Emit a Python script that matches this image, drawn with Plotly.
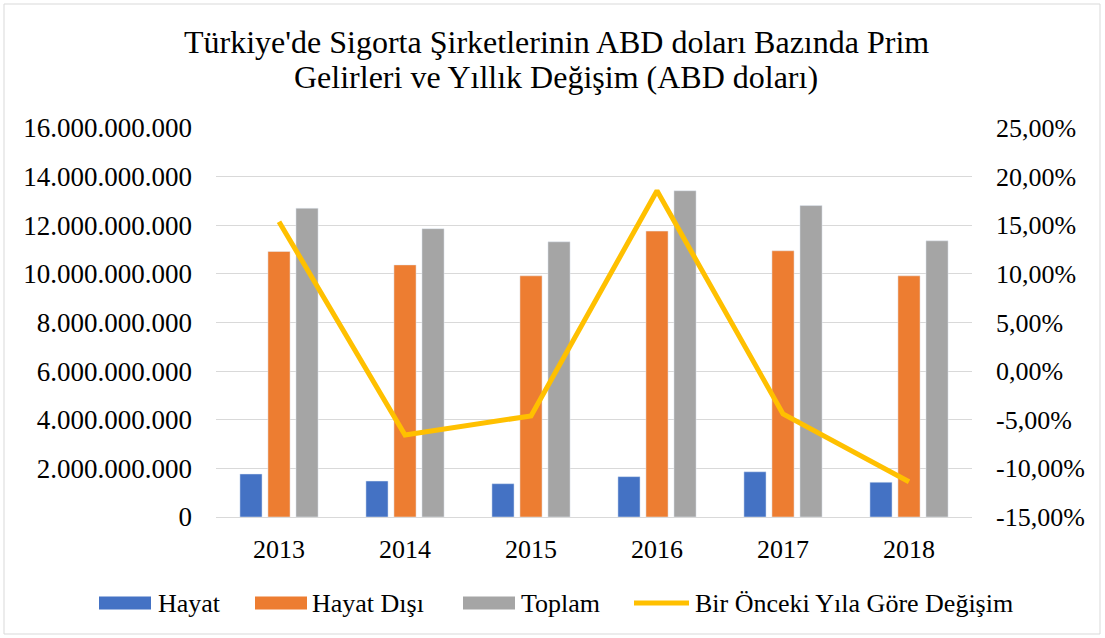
import plotly.graph_objects as go

years = ["2013", "2014", "2015", "2016", "2017", "2018"]
hayat = [1.77e9, 1.48e9, 1.37e9, 1.66e9, 1.86e9, 1.43e9]
hayat_disi = [10.92e9, 10.37e9, 9.92e9, 11.76e9, 10.95e9, 9.92e9]
toplam = [12.70e9, 11.86e9, 11.32e9, 13.42e9, 12.81e9, 11.36e9]
degisim = [0.1537, -0.0657, -0.046, 0.1855, -0.044, -0.1137]

series_names = ["Hayat", "Hayat Dışı", "Toplam", "Bir Önceki Yıla Göre Değişim"]
series_colors = ["#4472C4", "#ED7D31", "#A5A5A5", "#FFC000"]

pct_tickvals = [-0.15, -0.10, -0.05, 0.0, 0.05, 0.10, 0.15, 0.20, 0.25]
pct_ticktext = ["-15,00%", "-10,00%", "-5,00%", "0,00%", "5,00%", "10,00%", "15,00%", "20,00%", "25,00%"]

title_lines = ["Türkiye'de Sigorta Şirketlerinin ABD doları Bazında Prim",
               "Gelirleri ve Yıllık Değişim (ABD doları)"]

W, H = 1105, 638
L, R, T, B = 216, 972, 128, 517
FONT = "Liberation Serif"


def px_x(p):
    return (p - L) / (R - L)


def px_y(p):
    return (B - p) / (B - T)


fig = go.Figure()
for vals, name, col in zip([hayat, hayat_disi, toplam], series_names[:3], series_colors[:3]):
    fig.add_trace(go.Bar(x=years, y=vals, name=name, marker_color=col, showlegend=False))
fig.add_trace(go.Scatter(x=years, y=degisim, name=series_names[3], mode="lines",
                         line=dict(color=series_colors[3], width=5), yaxis="y2",
                         showlegend=False))

shapes = [dict(type="rect", xref="paper", yref="paper",
               x0=px_x(4), x1=px_x(1100), y0=px_y(634), y1=px_y(4),
               line=dict(color="#D9D9D9", width=1), fillcolor="rgba(0,0,0,0)", layer="below")]
annotations = []

# title (two lines)
for i, line in enumerate(title_lines):
    annotations.append(dict(text=line, xref="paper", yref="paper", x=px_x(556), y=px_y(42 + 35 * i),
                            xanchor="center", yanchor="middle", showarrow=False,
                            font=dict(family=FONT, size=32, color="black")))

# custom legend: swatch x positions and text x positions
leg_sw = [(99, 151), (255, 307), (463, 515), (634, 689)]
leg_tx = [156, 310, 519, 693]
leg_y = 603
for i, (name, col) in enumerate(zip(series_names, series_colors)):
    x0, x1 = leg_sw[i]
    if i < 3:
        shapes.append(dict(type="rect", xref="paper", yref="paper",
                           x0=px_x(x0), x1=px_x(x1), y0=px_y(leg_y + 6.5), y1=px_y(leg_y - 6.5),
                           line=dict(width=0), fillcolor=col))
    else:
        shapes.append(dict(type="line", xref="paper", yref="paper",
                           x0=px_x(x0), x1=px_x(x1), y0=px_y(leg_y), y1=px_y(leg_y),
                           line=dict(color=col, width=5)))
    annotations.append(dict(text=name, xref="paper", yref="paper", x=px_x(leg_tx[i]), y=px_y(leg_y),
                            xanchor="left", yanchor="middle", showarrow=False,
                            font=dict(family=FONT, size=26, color="black")))

fig.update_layout(
    width=W, height=H,
    margin=dict(l=L, r=W - R, t=T, b=H - B),
    paper_bgcolor="white", plot_bgcolor="white",
    separators=",.",
    font=dict(family=FONT, size=26, color="black"),
    showlegend=False,
    barmode="group", bargap=0.333, bargroupgap=0.21,
    xaxis=dict(showgrid=False, showline=True, linecolor="#D9D9D9", linewidth=1,
               ticks="", ticklabelstandoff=9, tickfont=dict(family=FONT, size=26)),
    yaxis=dict(range=[0, 16e9], dtick=2e9, tickformat=",d", showgrid=True,
               gridcolor="#D9D9D9", gridwidth=1, zeroline=False, showline=False,
               ticks="", ticklabelstandoff=23, tickfont=dict(family=FONT, size=27)),
    yaxis2=dict(range=[-0.15, 0.25], tickvals=pct_tickvals, ticktext=pct_ticktext,
                overlaying="y", side="right", showgrid=False, zeroline=False, showline=False,
                ticks="", ticklabelstandoff=23, tickfont=dict(family=FONT, size=26)),
    shapes=shapes,
    annotations=annotations,
)

fig.write_html("out.html", config={"displayModeBar": False},
               post_script="document.body.style.margin='0px';")
